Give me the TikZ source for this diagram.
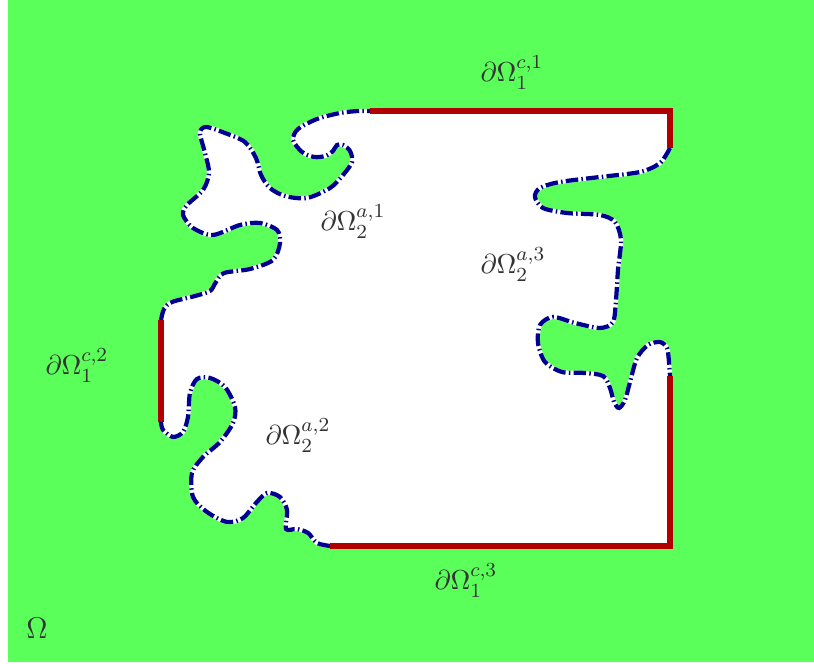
\documentclass[tikz,border=0pt]{standalone}
\usepackage{amsmath}
\definecolor{bggreen}{RGB}{90,255,90}
\definecolor{bdred}{RGB}{176,0,0}
\definecolor{bdblue}{RGB}{0,0,145}
\begin{document}
\begin{tikzpicture}[x=0.4pt,y=-0.4pt,
  redline/.style={draw=bdred,line width=2.3pt,line cap=butt,line join=miter},
  blueline/.style={draw=bdblue,line width=1.7pt,dash pattern=on 5pt off 1.3pt on 0.6pt off 1.3pt},
  whiteunder/.style={draw=white,line width=1.7pt},
  lbl/.style={anchor=base west,inner sep=0pt,text=black!80,font=\fontsize{11}{13}\selectfont}]
\useasboundingbox (0,0) rectangle (814,664);
\fill[bggreen] (8,0) rectangle (814,662);
% curves
\def\curveA{(670,148) (660,163) (640,172) (600,177) (560,182) (540,188) (535,197) (543,208) (567,213) (600,215) (615,222) (621,240) (618,270) (616,300) (613,322) (600,328) (575,323) (553,317) (540,325) (538,343) (545,362) (562,372) (585,373) (603,376) (610,388) (614,402) (619,408) (625,400) (630,382) (637,358) (648,345) (660,342) (667,348) (669,362) (670,376)}
\def\curveB{(330,546) (317,543) (308,533) (297,529) (286,529) (287,510) (280,497) (267,493) (256,503) (243,518) (227,522) (207,512) (193,497) (192,473) (203,457) (220,442) (233,423) (235,407) (225,387) (210,378) (197,379) (190,393) (188,417) (183,432) (173,437) (163,430) (161,422)}
\def\curveC{(161,320) (164,309) (172,302) (195,296) (210,291) (216,282) (224,273) (250,269) (273,260) (280,243) (277,230) (260,223) (240,225) (213,235) (193,228) (183,215) (187,205) (203,190) (209,173) (205,153) (200,133) (206,127) (225,133) (245,142) (256,158) (261,175) (270,188) (285,196) (307,198) (330,188) (343,175) (352,162) (350,151) (343,145) (337,145) (333,151) (325,156) (314,157) (302,152) (293,140) (298,129) (317,119) (340,113) (358,111) (370,111)}
\fill[white] (370,111) -- (670,111) -- (670,148)
  -- plot[smooth] coordinates \curveA
  -- (670,546) -- (330,546)
  -- plot[smooth] coordinates \curveB
  -- (161,320)
  -- plot[smooth] coordinates \curveC -- cycle;
\draw[whiteunder] plot[smooth] coordinates \curveA;
\draw[whiteunder] plot[smooth] coordinates \curveB;
\draw[whiteunder] plot[smooth] coordinates \curveC;
\draw[blueline] plot[smooth] coordinates \curveA;
\draw[blueline] plot[smooth] coordinates \curveB;
\draw[blueline] plot[smooth] coordinates \curveC;
\draw[redline] (370,111) -- (670,111) -- (670,148);
\draw[redline] (670,376) -- (670,546) -- (330,546);
\draw[redline] (161,320) -- (161,422);
% labels
\node[lbl] (c1) at (480,82) {$\partial\Omega_1^{c,1}$};
\node[lbl] (a1) at (320,231) {$\partial\Omega_2^{a,1}$};
\node[lbl] (a3) at (480,274) {$\partial\Omega_2^{a,3}$};
\node[lbl] (c2) at (45,375) {$\partial\Omega_1^{c,2}$};
\node[lbl] (a2) at (265,445) {$\partial\Omega_2^{a,2}$};
\node[lbl] (c3) at (434,590) {$\partial\Omega_1^{c,3}$};
\node[lbl,font=\fontsize{12.5}{14}\selectfont] (om) at (26,639) {$\Omega$};
\end{tikzpicture}
\end{document}
